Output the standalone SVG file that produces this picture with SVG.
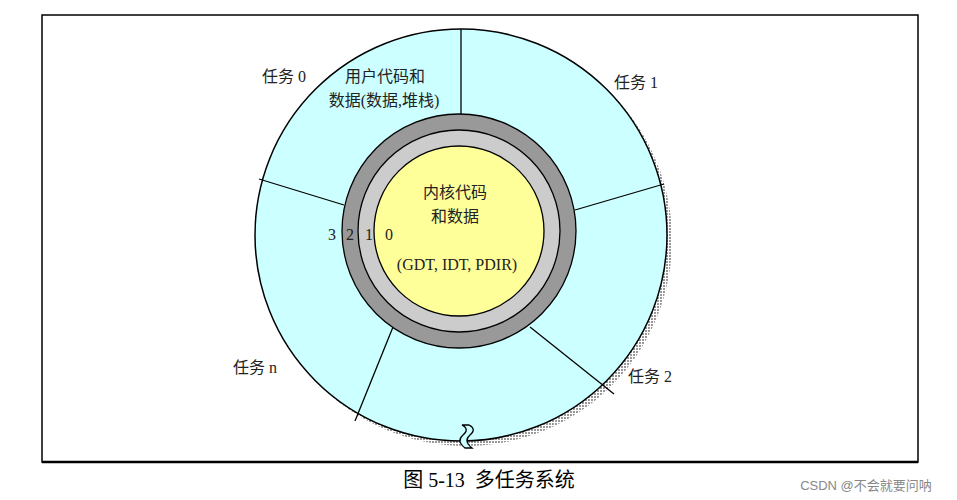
<svg xmlns="http://www.w3.org/2000/svg" width="957" height="500" viewBox="0 0 957 500">
<defs>
<pattern id="dots" width="3" height="3" patternUnits="userSpaceOnUse"><rect width="3" height="3" fill="#fff"/><rect width="2" height="2" fill="#999"/></pattern>
</defs>
<style>
text{font-family:"Liberation Serif","Noto Sans CJK SC",serif;font-size:16px;fill:#222}
.l{stroke:#000;stroke-width:1.3;fill:none}
</style>
<rect width="957" height="500" fill="#fff"/>
<rect x="42" y="15" width="876" height="447" fill="none" stroke="#000" stroke-width="1.5"/>
<line x1="42" y1="462" x2="918" y2="462" stroke="#000" stroke-width="2.5"/>
<g id="tasks">
<circle cx="466" cy="240" r="206" fill="url(#dots)"/>
<circle cx="461" cy="235" r="206" fill="#ccffff" stroke="#000" stroke-width="1.5"/>
</g>
<g id="connectors" class="l">
<line x1="461" y1="29" x2="461" y2="117"/>
<line x1="259" y1="179" x2="344" y2="205"/>
<line x1="664" y1="184" x2="575" y2="210"/>
<line x1="355" y1="421" x2="393" y2="327"/>
<line x1="614" y1="394" x2="530" y2="327"/>
</g>
<path d="M462 425 q8 4 1 10 q-7 6 2 13 l7 0 q-9 -7 -2 -13 q7 -6 -1 -10 z" fill="#ccffff" stroke="#000" stroke-width="1.3"/>
<g id="kernel">
<circle cx="459" cy="231" r="117" fill="#999" stroke="#000" stroke-width="1.3"/>
<circle cx="459" cy="231" r="101" fill="#ccc" stroke="#000" stroke-width="1.3"/>
<circle cx="459" cy="231" r="85" fill="#ffff99" stroke="#000" stroke-width="1.3"/>
<text x="455" y="198" text-anchor="middle">内核代码</text>
<text x="455" y="222" text-anchor="middle">和数据</text>
<text x="457" y="270" text-anchor="middle">(GDT, IDT, PDIR)</text>
</g>
<g id="rings"><text x="328" y="240">3</text><text x="346" y="240">2</text><text x="365" y="240">1</text><text x="385" y="240">0</text></g>
<g id="labels">
<text x="262" y="82">任务 0</text>
<text x="385" y="82" text-anchor="middle">用户代码和</text>
<text x="384" y="106" text-anchor="middle">数据(数据,堆栈)</text>
<text x="614" y="88">任务 1</text>
<text x="628" y="382">任务 2</text>
<text x="233" y="373">任务 n</text>
</g>
<text x="489" y="487" text-anchor="middle" style="font-size:20px;fill:#000" xml:space="preserve">图 5-13  多任务系统</text>
<text x="866" y="490" text-anchor="middle" style="font-family:'Liberation Sans','Noto Sans CJK SC',sans-serif;font-size:13px;fill:#888">CSDN @不会就要问呐</text>
</svg>
